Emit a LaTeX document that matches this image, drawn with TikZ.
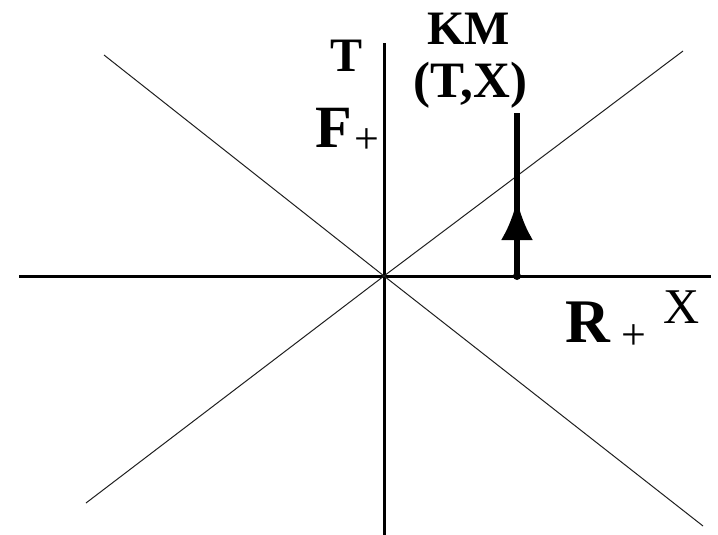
\documentclass[tikz,border=0pt]{standalone}
\usepackage{fontspec}
\setmainfont{Liberation Serif}
\usepackage{tikz}
\usetikzlibrary{arrows.meta, calc}
\definecolor{cInk}{HTML}{000000}
\definecolor{cCone}{HTML}{1F1F1F}

\begin{document}
\begin{tikzpicture}[x=1pt, y=-1pt,
    axisline/.style={line width=3pt, draw=cInk},
    coneline/.style={line width=1pt, draw=cCone},
    shaft/.style={line width=6pt, draw=cInk},
    lbl/.style={inner sep=0pt, text=cInk, anchor=base west}]
  \useasboundingbox (0,0) rectangle (718,535);
  % axes
  \coordinate (O) at (384,276);
  \coordinate (xl) at (19,276);
  \coordinate (xr) at (711,276);
  \coordinate (tb) at (384,535);
  \coordinate (tt) at (384,43);
  \draw[axisline] (xl) -- (xr);
  \draw[axisline] (tb) -- (tt);
  % light cone
  \coordinate (ul) at (104,55);
  \coordinate (ur) at (683,51);
  \coordinate (ll) at (86,503);
  \coordinate (lr) at (703,526);
  \draw[coneline] (ll) -- (O) -- (ur);
  \draw[coneline] (ul) -- (O) -- (lr);
  % world line of KM
  \coordinate (kmBase) at (517,276);
  \coordinate (kmHead) at (517,200);
  \coordinate (kmTop) at (517,113);
  \draw[shaft] (kmBase) -- (kmTop);
  \draw[shaft, -{Latex[length=40pt, width=32pt]}] (kmBase) -- (kmHead);
  \fill[cInk] (kmBase) circle (4pt);
  % labels
  \node[lbl, font=\fontsize{48}{50}\selectfont\bfseries] (tLabel) at (330,72) {T};
  \node[lbl, font=\fontsize{48}{50}\selectfont\bfseries] (kmLabel) at (427,45) {KM};
  \node[lbl, font=\fontsize{51}{53}\selectfont\bfseries] (kmCoord) at (413,97) {(T,X)};
  \node[lbl, font=\fontsize{60}{62}\selectfont\bfseries] (fLabel) at (315,147)
    {F\hspace{3pt}\raisebox{-6pt}{\fontsize{44}{44}\selectfont\mdseries +}};
  \node[lbl, font=\fontsize{62}{64}\selectfont\bfseries] (rLabel) at (565,342)
    {R\hspace{12pt}\raisebox{-7pt}{\fontsize{44}{44}\selectfont\mdseries +}};
  \node[lbl, font=\fontsize{50}{52}\selectfont] (xLabel) at (663,323) {X};
\end{tikzpicture}
\end{document}
